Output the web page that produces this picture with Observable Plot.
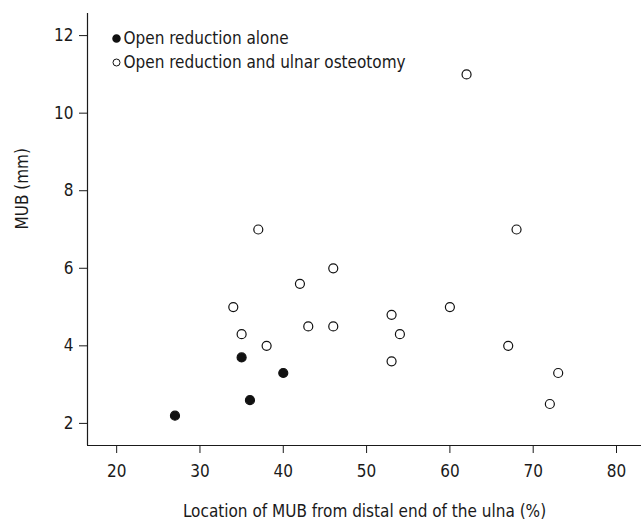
<!DOCTYPE html>
<html>
<head>
<meta charset="utf-8">
<script src="https://cdn.jsdelivr.net/npm/d3@7"></script>
<script src="https://cdn.jsdelivr.net/npm/@observablehq/plot@0.6"></script>
<style>
  html, body { margin: 0; padding: 0; background: #fff; }
  #chart svg { font-family: "Liberation Sans Narrow", "DejaVu Sans Condensed", "Roboto", sans-serif; }
</style>
</head>
<body>
<div id="chart"></div>
<script>
// Open reduction alone (filled)
const aloneX = [27, 35, 36, 40];
const aloneY = [2.2, 3.7, 2.6, 3.3];
// Open reduction and ulnar osteotomy (open)
const osteoX = [34, 35, 37, 38, 42, 43, 46, 46, 53, 53, 54, 60, 62, 67, 68, 72, 73];
const osteoY = [5, 4.3, 7, 4, 5.6, 4.5, 6, 4.5, 4.8, 3.6, 4.3, 5, 11, 4, 7, 2.5, 3.3];
const groups = ["Open reduction alone", "Open reduction and ulnar osteotomy"];
const xTicks = [20, 30, 40, 50, 60, 70, 80];
const yTicks = [2, 4, 6, 8, 10, 12];
const xLabel = "Location of MUB from distal end of the ulna (%)";
const yLabel = "MUB (mm)";

const xDomain = [16.5, 83];
const yDomain = [1.43, 12.57];

const alone = aloneX.map((x, i) => ({x, y: aloneY[i]}));
const osteo = osteoX.map((x, i) => ({x, y: osteoY[i]}));
const ink = "#1a1a1a";

const chart = Plot.plot({
  width: 641,
  height: 520,
  marginLeft: 87,
  marginRight: 0,
  marginTop: 13,
  marginBottom: 75,
  style: {fontSize: "17px", color: ink, background: "#fff"},
  x: {domain: xDomain},
  y: {domain: yDomain},
  marks: [
    Plot.axisX({ticks: xTicks, tickSize: 8, tickPadding: 11, tickFormat: d => String(d), label: null, stroke: ink}),
    Plot.axisY({ticks: yTicks, tickSize: 8, tickPadding: 6, tickFormat: d => String(d), label: null, stroke: ink}),
    Plot.ruleX([xDomain[0]], {stroke: ink, strokeWidth: 1.2}),
    Plot.ruleY([yDomain[0]], {stroke: ink, strokeWidth: 1.2}),
    Plot.text([xLabel], {frameAnchor: "bottom", dy: 71, fill: ink, fontSize: 17}),
    Plot.text([yLabel], {frameAnchor: "left", dx: -65, rotate: -90, fill: ink, fontSize: 17}),
    Plot.dot(osteo, {x: "x", y: "y", r: 4.5, stroke: "#111", strokeWidth: 1.2, fill: "#fff"}),
    Plot.dot(alone, {x: "x", y: "y", r: 4.5, stroke: "#111", strokeWidth: 1.2, fill: "#111"}),
    Plot.dot([groups[0]], {frameAnchor: "top-left", dx: 29, dy: 25, r: 3.5, fill: "#111", stroke: "#111"}),
    Plot.dot([groups[1]], {frameAnchor: "top-left", dx: 29, dy: 49, r: 3.5, fill: "#fff", stroke: "#111", strokeWidth: 1}),
    Plot.text([groups[0]], {frameAnchor: "top-left", dx: 36, dy: 25, text: d => d, textAnchor: "start", lineAnchor: "middle", fill: ink, fontSize: 17}),
    Plot.text([groups[1]], {frameAnchor: "top-left", dx: 36, dy: 49, text: d => d, textAnchor: "start", lineAnchor: "middle", fill: ink, fontSize: 17})
  ]
});
document.getElementById("chart").appendChild(chart);
</script>
</body>
</html>
